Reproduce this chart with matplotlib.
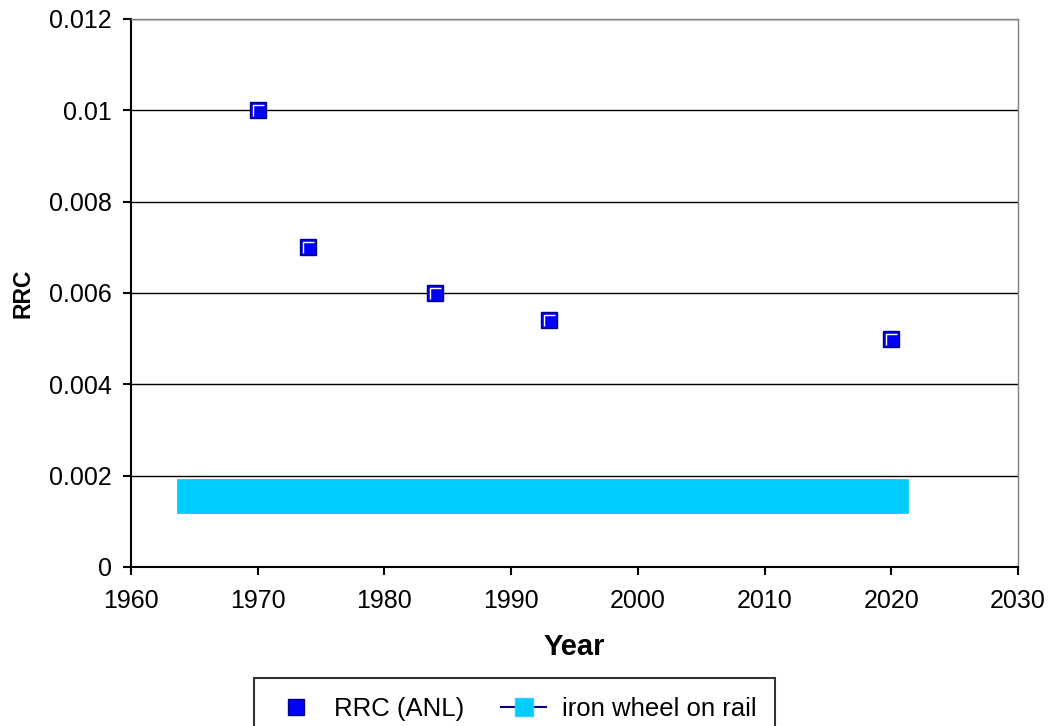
import matplotlib
matplotlib.use("Agg")
import matplotlib.pyplot as plt
from matplotlib.path import Path

plt.rcParams['font.family'] = ['Liberation Sans', 'DejaVu Sans']

# RRC (ANL) points
anl_years = [1970, 1974, 1984, 1993, 2020]
anl_rrc = [0.0100, 0.0070, 0.0060, 0.0054, 0.0050]

# iron wheel on rail (dense series drawn as a band)
rail_years = [1965, 1966, 1967, 1968, 1969, 1970, 1971, 1972, 1973, 1974,
              1975, 1976, 1977, 1978, 1979, 1980, 1981, 1982, 1983, 1984,
              1985, 1986, 1987, 1988, 1989, 1990, 1991, 1992, 1993, 1994,
              1995, 1996, 1997, 1998, 1999, 2000, 2001, 2002, 2003, 2004,
              2005, 2006, 2007, 2008, 2009, 2010, 2011, 2012, 2013, 2014,
              2015, 2016, 2017, 2018, 2019, 2020]
rail_rrc = [0.00155] * len(rail_years)

x_ticks = [1960, 1970, 1980, 1990, 2000, 2010, 2020, 2030]
y_ticks = [0, 0.002, 0.004, 0.006, 0.008, 0.01, 0.012]
y_tick_labels = ['0', '0.002', '0.004', '0.006', '0.008', '0.01', '0.012']

# white highlight inside the blue square markers
hl = Path([(-0.55, -0.75), (-0.55, 0.55), (0.75, 0.55)],
          [Path.MOVETO, Path.LINETO, Path.LINETO])

fig = plt.figure(figsize=(10.5, 7.26), dpi=100)
ax = fig.add_axes([131 / 1050, 1 - 567 / 726, (1018 - 131) / 1050, (567 - 19) / 726])

for y in y_ticks[1:]:
    ax.axhline(y, color='black', lw=1, zorder=1)

ax.plot(rail_years, rail_rrc, color='#000080', lw=1.5, marker='s', markersize=24,
        markerfacecolor='#00CCFF', markeredgecolor='#00CCFF', markeredgewidth=0.5,
        label='iron wheel on rail', zorder=2)
ax.plot(anl_years, anl_rrc, linestyle='none', marker='s', markersize=11.5,
        markerfacecolor='#0000FF', markeredgecolor='#000080', markeredgewidth=1,
        label='RRC (ANL)', zorder=3)
ax.plot(anl_years, anl_rrc, linestyle='none', marker=hl, markersize=9,
        markerfacecolor='none', markeredgecolor='white', markeredgewidth=1,
        zorder=4)

ax.set_xlim(1960, 2030)
ax.set_ylim(0, 0.012)
ax.set_xticks(x_ticks)
ax.set_yticks(y_ticks)
ax.set_yticklabels(y_tick_labels)
ax.tick_params(axis='both', labelsize=18, direction='out', length=6, width=1.5, color='black')
ax.tick_params(axis='x', pad=10)
ax.tick_params(axis='y', pad=8)

for side in ['top', 'right']:
    ax.spines[side].set_color('#808080')
    ax.spines[side].set_linewidth(1)
for side in ['left', 'bottom']:
    ax.spines[side].set_color('black')
    ax.spines[side].set_linewidth(1.5)

ax.set_xlabel('Year', fontsize=21, fontweight='bold', labelpad=14)
ax.set_ylabel('RRC', fontsize=16.5, fontweight='bold', labelpad=10)

handles, labels = ax.get_legend_handles_labels()
rail_handle = ax.plot([], [], color='#000080', lw=1.5, marker='s', markersize=13,
                      markerfacecolor='#00CCFF', markeredgecolor='#33CCFF')[0]
anl_handle = ax.plot([], [], linestyle='none', marker='s', markersize=11.5,
                     markerfacecolor='#0000FF', markeredgecolor='#000080')[0]
leg = fig.legend([anl_handle, rail_handle], [labels[1], labels[0]],
                 loc='upper left', bbox_to_anchor=(254 / 1050, 1 - 678 / 726),
                 borderaxespad=0, ncol=2, fontsize=18.5, frameon=True, fancybox=False,
                 edgecolor='black', borderpad=0.75, columnspacing=1.45,
                 handlelength=1.75, handletextpad=0.6)
leg.get_frame().set_linewidth(1.5)

fig.savefig('out.png', dpi=100)
